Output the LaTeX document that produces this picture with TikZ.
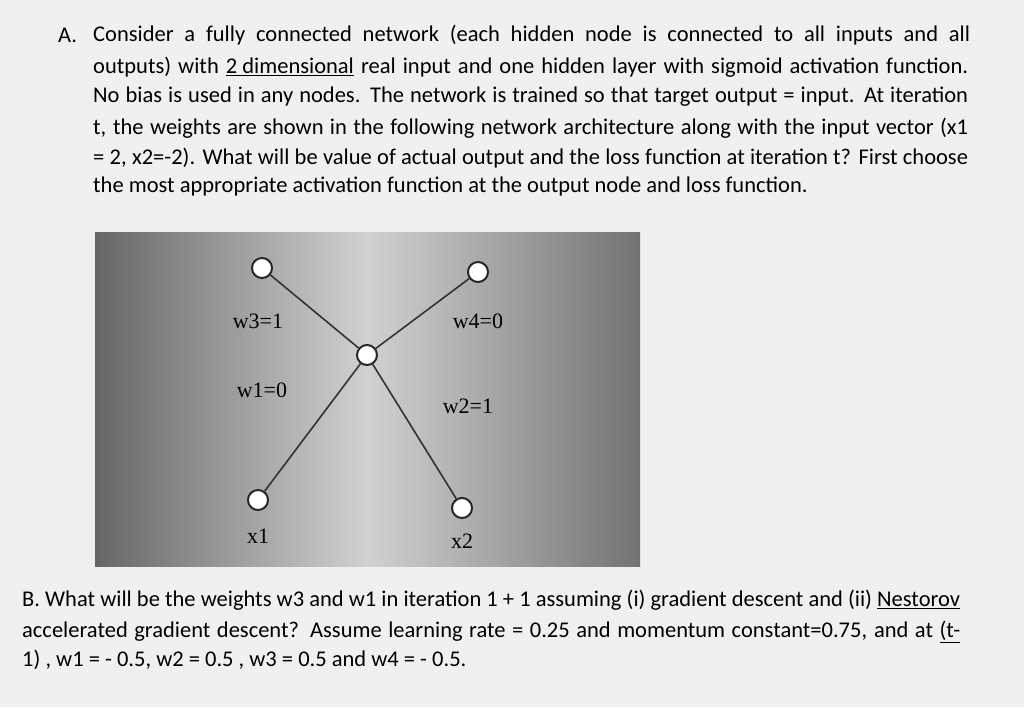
\documentclass[tikz,border=0pt]{standalone}
\usepackage{fontspec}
\setmainfont{Carlito}
\newfontfamily\tnr{Liberation Serif}
\newcommand{\jline}[2]{\hbox to #1{#2}}
\begin{document}
\begin{tikzpicture}[x=1pt,y=-1pt,
 txt/.style={anchor=west,inner sep=0,font=\fontsize{22.5}{26}\selectfont},
 neuron/.style={circle,draw=black!85,line width=2pt,fill=white,minimum size=20pt,inner sep=0},
 wl/.style={font=\tnr\fontsize{22}{24}\selectfont,inner sep=1pt},
 link/.style={draw=black!80,line width=1.6pt}]
\useasboundingbox (0,0) rectangle (1024,707);
\fill[black!6] (0,0) rectangle (1024,707);
\node[txt] (a0) at (58,35) {A.};
\node[txt] (a1) at (93,35) {\jline{877pt}{Consider a fully connected network (each hidden node is connected to all inputs and all}};
\node[txt] (a2) at (93,67) {\jline{875pt}{outputs) with \underline{2 dimensional} real input and one hidden layer with sigmoid activation function.}};
\node[txt] (a3) at (93,97) {\jline{875pt}{No bias is used in any nodes. The network is trained so that target output = input. At iteration}};
\node[txt] (a4) at (93,128) {\jline{875pt}{t, the weights are shown in the following network architecture along with the input vector (x1}};
\node[txt] (a5) at (93,158) {\jline{875pt}{= 2, x2=-2). What will be value of actual output and the loss function at iteration t? First choose}};
\node[txt] (a6) at (93,186) {the most appropriate activation function at the output node and loss function.};
\shade[left color=black!60,right color=black!55,middle color=black!18] (95,232) rectangle (640,566);
\node[neuron] (o1) at (262,268) {};
\node[neuron] (o2) at (478,272) {};
\node[neuron] (h) at (367,355) {};
\node[neuron] (x1) at (258,500) {};
\node[neuron] (x2) at (462,508) {};
\draw[link] (o1) -- (h); \draw[link] (h) -- (x2);
\draw[link] (o2) -- (h); \draw[link] (h) -- (x1);
\node[wl] (l3) at (258,321) {w3=1};
\node[wl] (l4) at (478,321) {w4=0};
\node[wl] (l1) at (262,390) {w1=0};
\node[wl] (l2) at (468,406) {w2=1};
\node[wl] (lx1) at (258,536) {x1};
\node[wl] (lx2) at (462,541) {x2};
\node[txt] (b1) at (22,600) {\jline{938pt}{B. What will be the weights w3 and w1 in iteration 1 + 1 assuming (i) gradient descent and (ii) \underline{Nestorov}}};
\node[txt] (b2) at (22,632) {\jline{938pt}{accelerated gradient descent? Assume learning rate = 0.25 and momentum constant=0.75, and at \underline{(t-}}};
\node[txt] (b3) at (22,660) {1) , w1 = - 0.5, w2 = 0.5 , w3 = 0.5 and w4 = - 0.5.};
\end{tikzpicture}
\end{document}
